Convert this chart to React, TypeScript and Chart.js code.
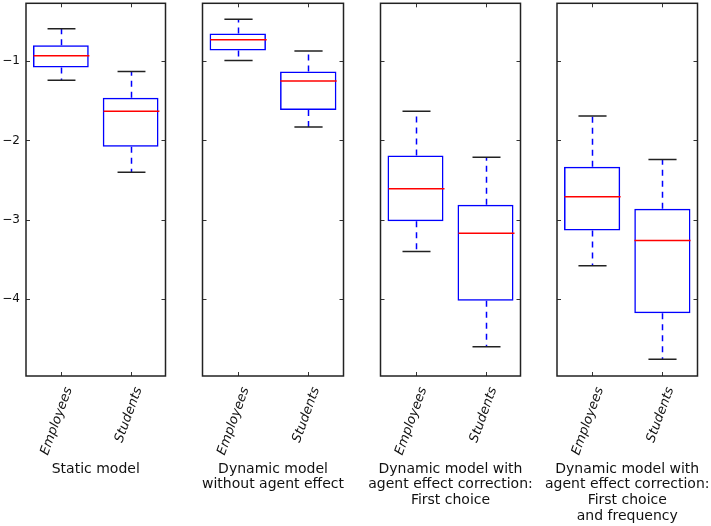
import React, { useEffect, useRef } from "react";
import { Chart, registerables } from "chart.js";

Chart.register(...registerables);

// ---- data ----
const groups = ["Employees", "Students"];
const panelTitles = [
  ["Static model"],
  ["Dynamic model", "without agent effect"],
  ["Dynamic model with", "agent effect correction:", "First choice"],
  ["Dynamic model with", "agent effect correction:", "First choice", "and frequency"],
];
const whiskerLow = [[-1.24, -2.4], [-0.99, -1.83], [-3.4, -4.6], [-3.58, -4.76]];
const quartile1 = [[-1.08, -2.08], [-0.865, -1.615], [-3.02, -4.02], [-3.135, -4.18]];
const medians = [[-0.93, -1.63], [-0.73, -1.25], [-2.61, -3.17], [-2.71, -3.26]];
const quartile3 = [[-0.8, -1.46], [-0.65, -1.13], [-2.19, -2.81], [-2.33, -2.86]];
const whiskerHigh = [[-0.59, -1.13], [-0.47, -0.87], [-1.63, -2.21], [-1.69, -2.24]];
const yTicks = [-4, -3, -2, -1];
const yMin = -4.97;
const yMax = -0.27;

// ---- layout ----
const W = 711;
const H = 526;
const panelLeft = [26, 202.5, 380.5, 557];
const panelRight = [165.5, 343.5, 520.5, 697.5];
const plotTop = 3.3;
const xAxisHeight = 150;
const titleOffset = 93;
const titleLine = 15.7;
const FONT = "'DejaVu Sans', sans-serif";

const boxPlugin = {
  id: "boxWhisker",
  afterDatasetsDraw(chart: any, _args: any, opts: any) {
    const p = opts.panel;
    const { ctx, chartArea: a, scales } = chart;
    const x = scales.x;
    const y = scales.y;
    const meta = chart.getDatasetMeta(0);
    ctx.save();
    groups.forEach((_g, j) => {
      const cx = Math.round(x.getPixelForValue(j)) + 0.5;
      const bw = meta.data[j].width;
      const yq1 = y.getPixelForValue(quartile1[p][j]);
      const yq3 = y.getPixelForValue(quartile3[p][j]);
      const ylo = y.getPixelForValue(whiskerLow[p][j]);
      const yhi = y.getPixelForValue(whiskerHigh[p][j]);
      const ymed = y.getPixelForValue(medians[p][j]);
      // whiskers
      ctx.strokeStyle = "#0000ff";
      ctx.lineWidth = 1.5;
      ctx.setLineDash([6, 5]);
      ctx.beginPath();
      ctx.moveTo(cx, yq3);
      ctx.lineTo(cx, yhi);
      ctx.moveTo(cx, yq1);
      ctx.lineTo(cx, ylo);
      ctx.stroke();
      ctx.setLineDash([]);
      // caps
      ctx.strokeStyle = "#222";
      ctx.beginPath();
      ctx.moveTo(cx - bw / 4, yhi);
      ctx.lineTo(cx + bw / 4, yhi);
      ctx.moveTo(cx - bw / 4, ylo);
      ctx.lineTo(cx + bw / 4, ylo);
      ctx.stroke();
      // median
      ctx.strokeStyle = "#ff0000";
      ctx.beginPath();
      ctx.moveTo(cx - bw / 2, ymed);
      ctx.lineTo(cx + bw / 2, ymed);
      ctx.stroke();
    });
    // inner ticks
    ctx.strokeStyle = "#333";
    ctx.lineWidth = 1;
    ctx.beginPath();
    yTicks.forEach((v) => {
      const py = Math.round(y.getPixelForValue(v)) + 0.5;
      ctx.moveTo(a.left, py);
      ctx.lineTo(a.left + 4, py);
      ctx.moveTo(a.right, py);
      ctx.lineTo(a.right - 4, py);
    });
    groups.forEach((_g, j) => {
      const px = Math.round(x.getPixelForValue(j)) + 0.5;
      ctx.moveTo(px, a.top);
      ctx.lineTo(px, a.top + 4);
      ctx.moveTo(px, a.bottom);
      ctx.lineTo(px, a.bottom - 4);
    });
    ctx.stroke();
    // frame
    ctx.strokeStyle = "#222";
    ctx.lineWidth = 1.5;
    ctx.strokeRect(a.left, a.top, a.right - a.left, a.bottom - a.top);
    // panel title below the axis labels
    ctx.fillStyle = "#111";
    ctx.font = "14px " + FONT;
    ctx.textAlign = "center";
    ctx.textBaseline = "middle";
    const cxTitle = (a.left + a.right) / 2;
    panelTitles[p].forEach((line: string, k: number) => {
      ctx.fillText(line, cxTitle, a.bottom + titleOffset + k * titleLine);
    });
    ctx.restore();
  },
};

function makeConfig(p: number): any {
  return {
    type: "bar",
    data: {
      labels: groups,
      datasets: [
        {
          data: groups.map((_g, j) => [quartile1[p][j], quartile3[p][j]]),
          backgroundColor: "rgba(0,0,0,0)",
          borderColor: "#0000ff",
          borderWidth: 1.5,
          borderSkipped: false,
          barPercentage: 0.8,
          categoryPercentage: 1,
        },
      ],
    },
    options: {
      animation: false,
      responsive: false,
      maintainAspectRatio: false,
      events: [],
      layout: {
        padding: {
          left: p === 0 ? 0 : panelLeft[p],
          right: W - panelRight[p],
          top: plotTop,
          bottom: 0,
        },
      },
      plugins: {
        legend: { display: false },
        tooltip: { enabled: false },
        boxWhisker: { panel: p },
      },
      scales: {
        x: {
          offset: true,
          grid: { display: false, drawTicks: false },
          border: { display: false },
          ticks: {
            autoSkip: false,
            minRotation: 70,
            maxRotation: 70,
            labelOffset: 8,
            padding: 9,
            color: "#111",
            font: { family: FONT, size: 13, style: "italic" },
          },
          afterFit: (s: any) => {
            s.height = xAxisHeight;
            s.paddingLeft = 0;
            s.paddingRight = 0;
          },
        },
        y: {
          display: p === 0,
          min: yMin,
          max: yMax,
          grid: { display: false, drawTicks: false },
          border: { display: false },
          ticks: {
            padding: 6,
            color: "#111",
            font: { family: FONT, size: 12 },
            callback: (v: number) => (v < 0 ? "\u2212" + Math.abs(v) : String(v)),
          },
          afterBuildTicks: (s: any) => {
            s.ticks = yTicks.map((v) => ({ value: v }));
          },
          afterFit: (s: any) => {
            if (p === 0) s.width = panelLeft[0];
            s.paddingTop = 0;
            s.paddingBottom = 0;
          },
        },
      },
    },
    plugins: [boxPlugin],
  };
}

function Panel({ p }: { p: number }) {
  const ref = useRef<HTMLCanvasElement | null>(null);
  useEffect(() => {
    if (!ref.current) return;
    const chart = new Chart(ref.current, makeConfig(p));
    return () => chart.destroy();
  }, [p]);
  return (
    <canvas
      ref={ref}
      width={W}
      height={H}
      style={{ position: "absolute", left: 0, top: 0, width: W, height: H }}
    />
  );
}

export default function App() {
  return (
    <div
      style={{
        position: "absolute",
        left: 0,
        top: 0,
        width: W,
        height: H,
        background: "#fff",
        overflow: "hidden",
      }}
    >
      {[0, 1, 2, 3].map((p) => (
        <Panel key={p} p={p} />
      ))}
    </div>
  );
}
